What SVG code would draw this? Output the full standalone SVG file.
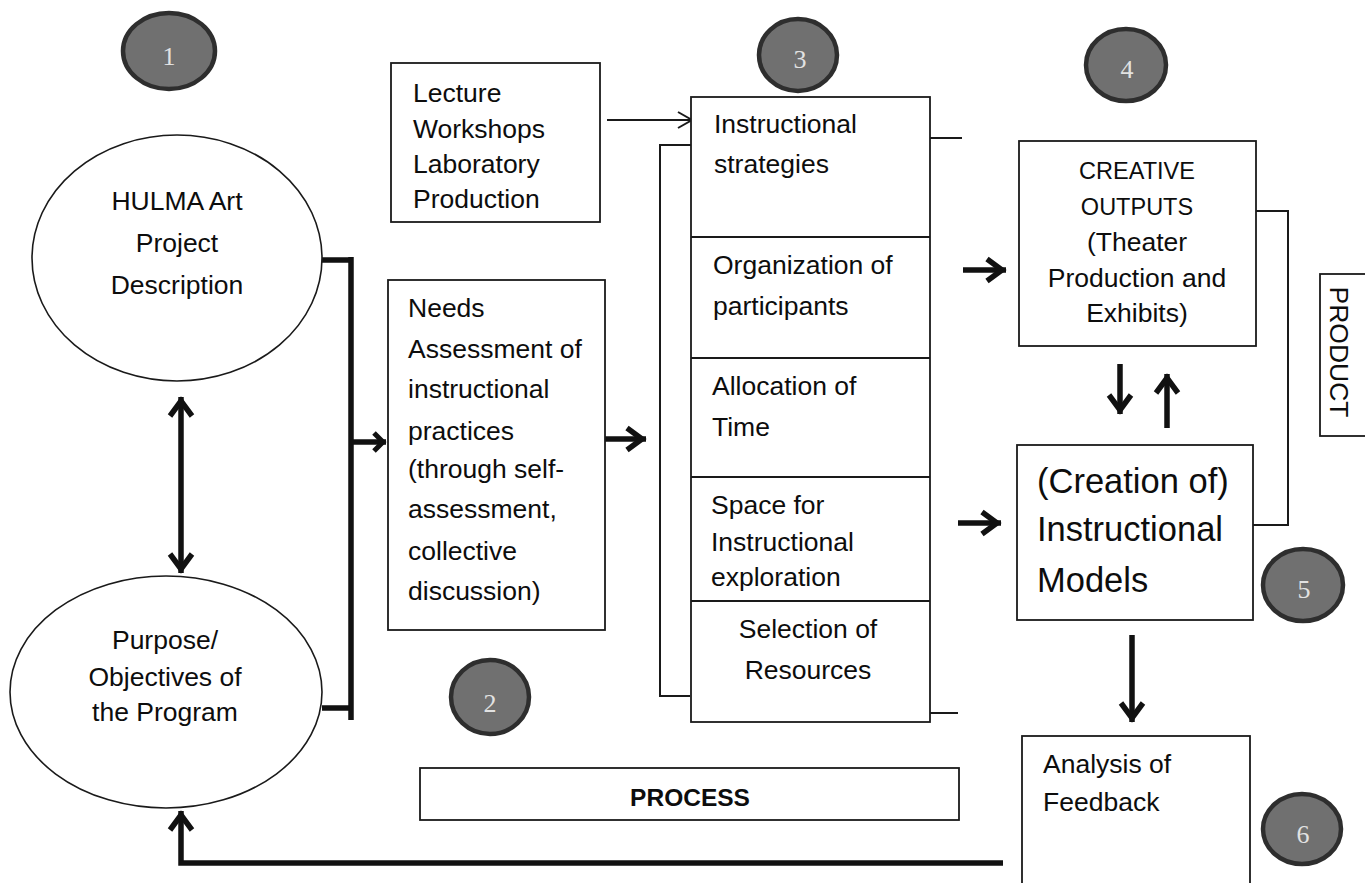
<svg xmlns="http://www.w3.org/2000/svg" width="1365" height="883" viewBox="0 0 1365 883">
  <style>
    .shape { fill: #ffffff; stroke: #1a1a1a; stroke-width: 1.8; }
    .oval { fill: #ffffff; stroke: #1a1a1a; stroke-width: 1.6; }
    .t { font-family: "Liberation Sans", Arial, sans-serif; font-size: 26.5px; fill: #0d0d0d; }
    .caps { font-size: 23.5px; }
    .big { font-size: 34.5px; }
    .bold { font-weight: bold; font-size: 24.5px; }
    .mid { text-anchor: middle; }
    .badge { fill: #707070; stroke: #2e2e2e; stroke-width: 4.5; }
    .num { font-family: "Liberation Serif", "Times New Roman", serif; font-size: 26px; fill: #e2e2e2; text-anchor: middle; }
    .thin { fill: none; stroke: #1a1a1a; stroke-width: 2; }
    .thick { fill: none; stroke: #111111; stroke-width: 5.5; }
  </style>
  <defs>
    <marker id="chev" viewBox="-24 -14 28 28" refX="0" refY="0" markerWidth="28" markerHeight="28" markerUnits="userSpaceOnUse" orient="auto" overflow="visible">
      <path d="M-19,-11 L-4,0 L-19,11" fill="none" stroke="#111111" stroke-width="5.5" stroke-linejoin="miter"/>
    </marker>
    <marker id="chevSmall" viewBox="-16 -12 20 24" refX="0" refY="0" markerWidth="20" markerHeight="24" markerUnits="userSpaceOnUse" orient="auto" overflow="visible">
      <path d="M-12,-9 L-3,0 L-12,9" fill="none" stroke="#111111" stroke-width="5" stroke-linejoin="miter"/>
    </marker>
    <marker id="open" viewBox="-16 -10 18 20" refX="0" refY="0" markerWidth="18" markerHeight="20" markerUnits="userSpaceOnUse" orient="auto" overflow="visible">
      <path d="M-14,-8 L0,0 L-14,8" fill="none" stroke="#1a1a1a" stroke-width="2"/>
    </marker>
  </defs>

  <rect width="1365" height="883" fill="#ffffff"/>

  <!-- connectors -->
  <g id="connectors">
    <!-- bracket joining the two ovals -->
    <path class="thick" d="M322,260 H351 M322,708 H351 M351,257 V720"/>
    <path class="thick" d="M351,442 H386" marker-end="url(#chevSmall)"/>
    <!-- two-way link between the ovals -->
    <path class="thick" d="M181,485 V397" marker-end="url(#chev)"/>
    <path class="thick" d="M181,485 V573" marker-end="url(#chev)"/>
    <!-- teaching modes into strategies -->
    <path class="thin" d="M607,120 H692" marker-end="url(#open)"/>
    <!-- needs assessment into the component stack -->
    <path class="thick" d="M605,439 H646" marker-end="url(#chev)"/>
    <!-- bracket behind the component stack -->
    <path class="thin" d="M694,145 H660 V696 H690"/>
    <path class="thin" d="M930,138 H962 M925,713 H958"/>
    <!-- stack into outputs and models -->
    <path class="thick" d="M963,270 H1006" marker-end="url(#chev)"/>
    <path class="thick" d="M958,523 H1001" marker-end="url(#chev)"/>
    <!-- outputs and models exchange -->
    <path class="thick" d="M1120,364 V414" marker-end="url(#chev)"/>
    <path class="thick" d="M1167,428 V374" marker-end="url(#chev)"/>
    <!-- product bracket -->
    <path class="thin" d="M1256,211 H1288 V525 H1253"/>
    <!-- models into feedback analysis -->
    <path class="thick" d="M1132,635 V722" marker-end="url(#chev)"/>
    <!-- feedback loop back to the objectives -->
    <path class="thick" d="M1003,863 H181 V811" marker-end="url(#chev)"/>
  </g>

  <!-- number badges -->
  <g id="badge1"><ellipse class="badge" cx="169" cy="51" rx="46" ry="38"/><text class="num" x="169" y="65">1</text></g>
  <g id="badge2"><ellipse class="badge" cx="490" cy="697" rx="39" ry="37"/><text class="num" x="490" y="712">2</text></g>
  <g id="badge3"><ellipse class="badge" cx="798" cy="55" rx="39" ry="36"/><text class="num" x="800" y="68">3</text></g>
  <g id="badge4"><ellipse class="badge" cx="1126" cy="65" rx="40" ry="36"/><text class="num" x="1127" y="78">4</text></g>
  <g id="badge5"><ellipse class="badge" cx="1303" cy="585" rx="40" ry="36"/><text class="num" x="1304" y="598">5</text></g>
  <g id="badge6"><ellipse class="badge" cx="1302" cy="829" rx="39" ry="35"/><text class="num" x="1303" y="843">6</text></g>

  <!-- project description -->
  <g id="project">
    <ellipse class="oval" cx="177" cy="258" rx="145" ry="123"/>
    <text class="t mid" x="177" y="210">HULMA Art</text>
    <text class="t mid" x="177" y="252">Project</text>
    <text class="t mid" x="177" y="294">Description</text>
  </g>

  <!-- purpose and objectives -->
  <g id="purpose">
    <ellipse class="oval" cx="166" cy="692" rx="156" ry="116"/>
    <text class="t mid" x="165" y="649">Purpose/</text>
    <text class="t mid" x="165" y="686">Objectives of</text>
    <text class="t mid" x="165" y="721">the Program</text>
  </g>

  <!-- teaching modes -->
  <g id="modes">
    <rect class="shape" x="391" y="63" width="209" height="159"/>
    <text class="t" x="413" y="102">Lecture</text>
    <text class="t" x="413" y="138">Workshops</text>
    <text class="t" x="413" y="173">Laboratory</text>
    <text class="t" x="413" y="208">Production</text>
  </g>

  <!-- needs assessment -->
  <g id="needs">
    <rect class="shape" x="388" y="280" width="217" height="350"/>
    <text class="t" x="408" y="317">Needs</text>
    <text class="t" x="408" y="358">Assessment of</text>
    <text class="t" x="408" y="398">instructional</text>
    <text class="t" x="408" y="440">practices</text>
    <text class="t" x="408" y="478">(through self-</text>
    <text class="t" x="408" y="518">assessment,</text>
    <text class="t" x="408" y="560">collective</text>
    <text class="t" x="408" y="600">discussion)</text>
  </g>

  <!-- component stack -->
  <g id="components">
    <rect class="shape" x="691" y="97" width="239" height="625"/>
    <path class="thin" d="M691,237 H930 M691,358 H930 M691,477 H930 M691,601 H930"/>
    <text class="t" x="714" y="133">Instructional</text>
    <text class="t" x="714" y="173">strategies</text>
    <text class="t" x="713" y="274">Organization of</text>
    <text class="t" x="713" y="315">participants</text>
    <text class="t" x="712" y="395">Allocation of</text>
    <text class="t" x="712" y="436">Time</text>
    <text class="t" x="711" y="514">Space for</text>
    <text class="t" x="711" y="551">Instructional</text>
    <text class="t" x="711" y="586">exploration</text>
    <text class="t mid" x="808" y="638">Selection of</text>
    <text class="t mid" x="808" y="679">Resources</text>
  </g>

  <!-- creative outputs -->
  <g id="outputs">
    <rect class="shape" x="1019" y="141" width="237" height="205"/>
    <text class="t caps mid" x="1137" y="179">CREATIVE</text>
    <text class="t caps mid" x="1137" y="215">OUTPUTS</text>
    <text class="t mid" x="1137" y="251">(Theater</text>
    <text class="t mid" x="1137" y="287">Production and</text>
    <text class="t mid" x="1137" y="322">Exhibits)</text>
  </g>

  <!-- product label -->
  <g id="product">
    <rect class="shape" x="1320" y="274" width="60" height="162"/>
    <text class="t mid" x="0" y="0" font-size="23px" transform="translate(1330,352) rotate(90)">PRODUCT</text>
  </g>

  <!-- instructional models -->
  <g id="models">
    <rect class="shape" x="1017" y="445" width="236" height="175"/>
    <text class="t big" x="1037" y="493">(Creation of)</text>
    <text class="t big" x="1037" y="541">Instructional</text>
    <text class="t big" x="1037" y="592">Models</text>
  </g>

  <!-- feedback analysis -->
  <g id="feedback">
    <rect class="shape" x="1022" y="736" width="228" height="170"/>
    <text class="t" x="1043" y="773">Analysis of</text>
    <text class="t" x="1043" y="811">Feedback</text>
  </g>

  <!-- process label -->
  <g id="process">
    <rect class="shape" x="420" y="768" width="539" height="52"/>
    <text class="t bold mid" x="690" y="806">PROCESS</text>
  </g>
</svg>
